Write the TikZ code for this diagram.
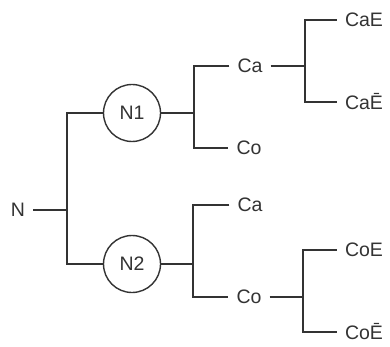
\documentclass[tikz,border=0pt]{standalone}
\usepackage{fontspec}
\setsansfont{Liberation Sans}
\usetikzlibrary{positioning}

\begin{document}
\begin{tikzpicture}[x=1pt, y=-1pt,
  lbl/.style={font=\sffamily\fontsize{19.5}{21}\selectfont, text=black!80, inner xsep=8pt, inner ysep=0pt},
  cnode/.style={draw=black!80, circle, line width=1.4pt, minimum size=57pt, inner sep=0pt, font=\sffamily\fontsize{19.5}{21}\selectfont, text=black!80},
  link/.style={draw=black!80, line width=1.5pt}
]
\useasboundingbox (0,0) rectangle (390,347);
% root and first split
\node[lbl] (n) at (18,210) {N};
\coordinate (jn) at (67,210);
\node[cnode] (n1) at (132,113) {N1};
\node[cnode] (n2) at (132,264) {N2};
\draw[link] (n) -- (jn);
\draw[link] (n1.west) -| (jn) |- (n2.west);
% upper branch
\coordinate (j1) at (194,113);
\node[lbl] (ca1) at (250,66) {Ca};
\node[lbl] (co1) at (249,148) {Co};
\draw[link] (n1) -- (j1);
\draw[link] (ca1.west) -| (j1) |- (co1.west);
\coordinate (j3) at (305,66);
\node[lbl] (cae) at (364,20) {CaE};
\node[lbl] (caeb) at (364,102) {CaĒ};
\draw[link] (ca1) -- (j3);
\draw[link] (cae.west) -| (j3) |- (caeb.west);
% lower branch
\coordinate (j2) at (193,264);
\node[lbl] (ca2) at (250,205) {Ca};
\node[lbl] (co2) at (249,297) {Co};
\draw[link] (n2) -- (j2);
\draw[link] (ca2.west) -| (j2) |- (co2.west);
\coordinate (j4) at (303,297);
\node[lbl] (coe) at (364,250) {CoE};
\node[lbl] (coeb) at (364,332) {CoĒ};
\draw[link] (co2) -- (j4);
\draw[link] (coe.west) -| (j4) |- (coeb.west);
\end{tikzpicture}
\end{document}
